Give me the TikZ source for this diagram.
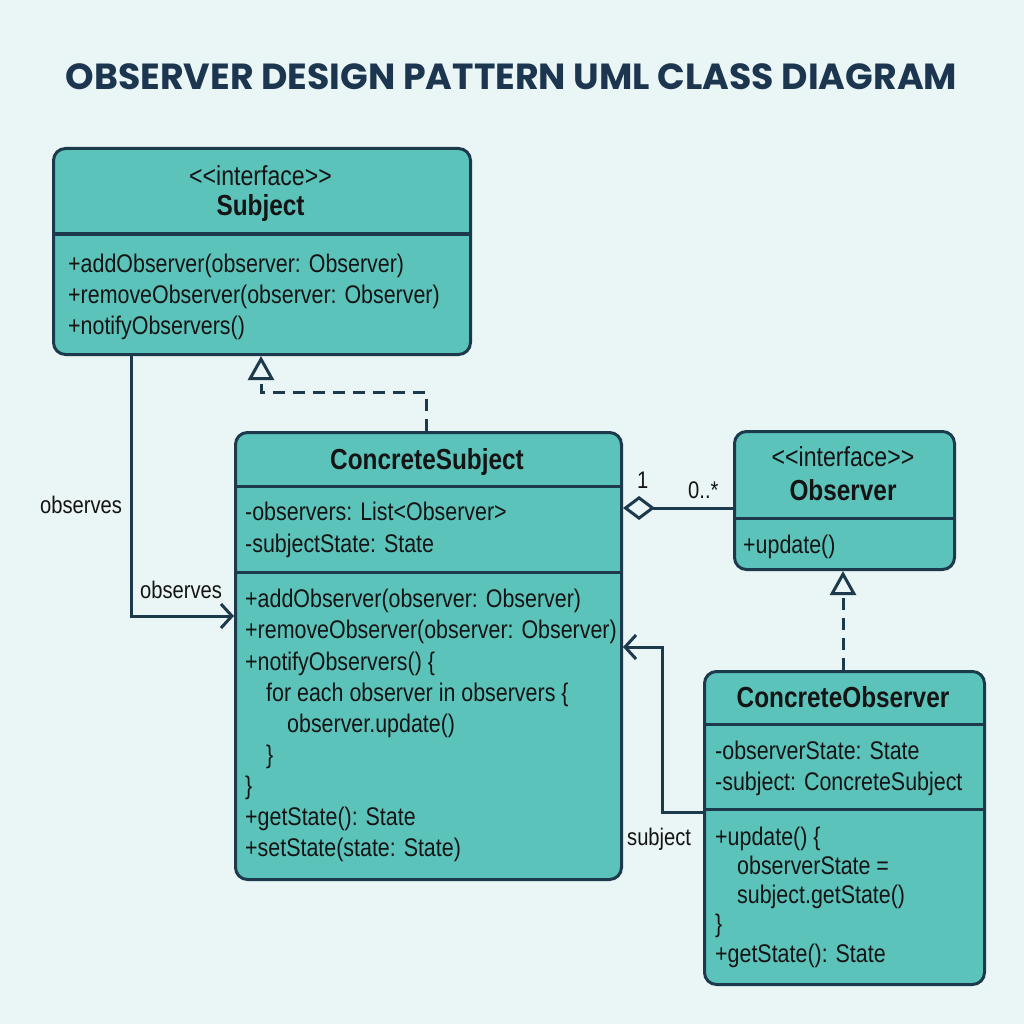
\documentclass[tikz,border=0pt]{standalone}
\usepackage{fontspec}
\usepackage{graphicx}
\setmainfont{Liberation Sans}[FakeStretch=0.84]
\newfontfamily\titlefont{Poppins}
\usetikzlibrary{arrows.meta}
\definecolor{bg}{HTML}{EAF5F6}
\definecolor{boxfill}{HTML}{5CC3BB}
\definecolor{ink}{HTML}{1D3A4D}
\definecolor{titleink}{HTML}{1C3650}
\definecolor{txtc}{HTML}{141414}
\begin{document}
\begin{tikzpicture}[x=1pt,y=-1pt,
  umlbox/.style={draw=ink, line width=3pt, fill=boxfill, rounded corners=12pt, anchor=north west, inner sep=0pt},
  divider/.style={draw=ink, line width=3pt},
  txt/.style={anchor=base west, inner sep=0pt, text=txtc, font=\fontsize{25.5}{30}\selectfont},
  ctitle/.style={anchor=base, inner sep=0pt, text=txtc, font=\fontsize{29}{34}\selectfont\bfseries},
  stereo/.style={anchor=base, inner sep=0pt, text=txtc, font=\fontsize{27.5}{30}\selectfont},
  lbl/.style={anchor=base west, inner sep=0pt, text=txtc, font=\fontsize{24}{28}\selectfont},
  conn/.style={draw=ink, line width=3pt},
  realiz/.style={conn, dash pattern=on 12pt off 8pt, -{Triangle[open, length=24pt, width=26pt, fill=bg]}},
  nav/.style={conn, -{Straight Barb[length=11pt, width=24pt]}},
  aggr/.style={conn, {Diamond[open, length=32pt, width=24pt, fill=bg]}-}
]
\fill[bg] (0,0) rectangle (1024,1024);
\useasboundingbox (0,0) rectangle (1024,1024);

% title
\node[anchor=center, inner sep=0pt, text=titleink] (title) at (511.5,77)
  {\resizebox{891pt}{!}{\titlefont\bfseries OBSERVER DESIGN PATTERN UML CLASS DIAGRAM}};

% Subject
\node[umlbox, minimum width=417pt, minimum height=206pt] (subj) at (52,147) {};
\draw[divider] (52,234) -- (469,234);
\node[stereo] (subjst) at (260.5,186) {<{}<interface>{}>};
\node[ctitle] (subjname) at (260.5,216) {Subject};
\node[txt] (sm1) at (68,272) {+addObserver(observer: Observer)};
\node[txt] (sm2) at (68,303) {+removeObserver(observer: Observer)};
\node[txt] (sm3) at (68,334) {+notifyObservers()};

% ConcreteSubject
\node[umlbox, minimum width=386pt, minimum height=447pt] (csub) at (234,431) {};
\draw[divider] (234,486) -- (620,486);
\draw[divider] (234,572) -- (620,572);
\node[ctitle] (csubname) at (427,469) {ConcreteSubject};
\node[txt] (ca1) at (245,520) {-observers: List<Observer>};
\node[txt] (ca2) at (245,552) {-subjectState: State};
\node[txt] (cm1) at (245,607) {+addObserver(observer: Observer)};
\node[txt] (cm2) at (245,638) {+removeObserver(observer: Observer)};
\node[txt] (cm3) at (245,670) {+notifyObservers() \{};
\node[txt] (cm4) at (266,701) {for each observer in observers \{};
\node[txt] (cm5) at (287,732) {observer.update()};
\node[txt] (cm6) at (266,763) {\}};
\node[txt] (cm7) at (245,794) {\}};
\node[txt] (cm8) at (245,825) {+getState(): State};
\node[txt] (cm9) at (245,856) {+setState(state: State)};

% Observer
\node[umlbox, minimum width=220pt, minimum height=138pt] (obs) at (733,430) {};
\draw[divider] (733,518) -- (953,518);
\node[stereo] (obsst) at (843,466) {<{}<interface>{}>};
\node[ctitle] (obsname) at (843,500) {Observer};
\node[txt] (om1) at (743,553) {+update()};

% ConcreteObserver
\node[umlbox, minimum width=280pt, minimum height=313pt] (cobs) at (703,670) {};
\draw[divider] (703,724) -- (983,724);
\draw[divider] (703,809) -- (983,809);
\node[ctitle] (cobsname) at (843,707) {ConcreteObserver};
\node[txt] (oa1) at (715,759) {-observerState: State};
\node[txt] (oa2) at (715,790) {-subject: ConcreteSubject};
\node[txt] (ob1) at (715,845) {+update() \{};
\node[txt] (ob2) at (737,874) {observerState =};
\node[txt] (ob3) at (737,903) {subject.getState()};
\node[txt] (ob4) at (715,932) {\}};
\node[txt] (ob5) at (715,962) {+getState(): State};

% ConcreteSubject realizes Subject
\coordinate (r1) at (426,392);
\coordinate (r2) at (261,392);
\draw[realiz] (r1 |- csub.north) -- (r1) -- (r2) -- (r2 |- subj.south);

% ConcreteObserver realizes Observer
\coordinate (r3) at (843,620);
\draw[realiz] (r3 |- cobs.north) -- (r3 |- obs.south);

% observes
\coordinate (o1) at (131,616);
\draw[nav] (o1 |- subj.south) -- (o1) -- (o1 -| csub.west);
\node[lbl] (obslbl1) at (40,513) {observes};
\node[lbl] (obslbl2) at (140,598) {observes};

% aggregation
\coordinate (a1) at (680,508);
\draw[aggr] (a1 -| csub.east) -- (a1 -| obs.west);
\node[lbl] (m1) at (637,488) {1};
\node[lbl] (m2) at (688,498) {0..*};

% subject navigation
\coordinate (n1) at (662,812);
\coordinate (n2) at (662,647);
\draw[nav] (n1 -| cobs.west) -- (n1) -- (n2) -- (n2 -| csub.east);
\node[lbl] (subjlbl) at (627,845) {subject};
\end{tikzpicture}
\end{document}
